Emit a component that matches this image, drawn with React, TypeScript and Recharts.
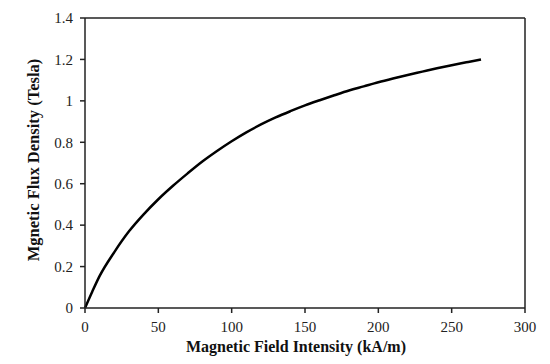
import React from 'react';
import { LineChart, Line, XAxis, YAxis, ReferenceLine, Label } from 'recharts';

// H in kA/m, B in Tesla
const fieldIntensity = [0, 5, 10, 20, 30, 40, 50, 60, 70, 80, 90, 100, 110, 120, 130, 140, 150, 160, 170, 180, 190, 200, 210, 220, 230, 240, 250, 260, 270];
const fluxDensity = [0, 0.08, 0.155, 0.27, 0.37, 0.452, 0.525, 0.59, 0.65, 0.707, 0.758, 0.805, 0.848, 0.886, 0.92, 0.95, 0.978, 1.003, 1.027, 1.05, 1.07, 1.09, 1.108, 1.125, 1.141, 1.157, 1.172, 1.186, 1.2];

const xTicks = [0, 50, 100, 150, 200, 250, 300];
const yTicks = [0, 0.2, 0.4, 0.6, 0.8, 1, 1.2, 1.4];

const xTitle = 'Magnetic Field Intensity (kA/m)';
const yTitle = 'Mgnetic Flux Density (Tesla)';

const data = fieldIntensity.map((h, i) => ({ h, b: fluxDensity[i] }));

const FONT = 'Liberation Serif, DejaVu Serif, serif';
const AXIS = '#222';

const tickStyle = { fill: '#222', fontSize: 15, fontFamily: FONT, style: { fontFamily: FONT } };

const App: React.FC = () => {
  return (
    <div style={{ position: 'absolute', left: 0, top: 0, background: '#fff', fontFamily: FONT }}>
      <LineChart width={550} height={364} data={data} margin={{ top: 18, right: 25, bottom: 20, left: 15 }}>
        <XAxis
          dataKey="h"
          type="number"
          domain={[0, 300]}
          ticks={xTicks}
          height={36}
          tickSize={5}
          tickMargin={8}
          stroke={AXIS}
          strokeWidth={1.5}
          tick={tickStyle}
        >
          <Label
            content={() => (
              <text x={296} y={352} textAnchor="middle" style={{ fontFamily: FONT }} fontWeight="bold" fontSize={16} fill="#111">
                {xTitle}
              </text>
            )}
          />
        </XAxis>
        <YAxis
          type="number"
          domain={[0, 1.4]}
          ticks={yTicks}
          width={70}
          tickSize={5}
          tickMargin={7}
          stroke={AXIS}
          strokeWidth={1.5}
          tick={tickStyle}
        >
          <Label
            content={() => (
              <text
                x={39}
                y={160}
                transform="rotate(-90 39 160)"
                textAnchor="middle"
                style={{ fontFamily: FONT }}
                fontWeight="bold"
                fontSize={16.5}
                fill="#111"
              >
                {yTitle}
              </text>
            )}
          />
        </YAxis>
        <ReferenceLine y={1.4} stroke={AXIS} strokeWidth={1.5} />
        <ReferenceLine x={300} stroke={AXIS} strokeWidth={1.5} />
        <Line type="monotone" dataKey="b" stroke="#000" strokeWidth={2.5} dot={false} isAnimationActive={false} />
      </LineChart>
    </div>
  );
};

export default App;
